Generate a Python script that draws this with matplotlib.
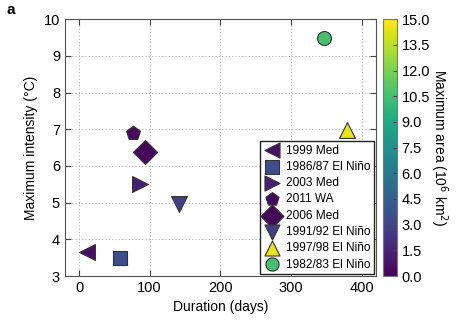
import matplotlib
matplotlib.use("Agg")
import matplotlib.pyplot as plt
import numpy as np

plt.rcParams['font.family'] = ['Liberation Sans', 'DejaVu Sans']

events = ["1999 Med", "1986/87 El Niño", "2003 Med", "2011 WA", "2006 Med",
          "1991/92 El Niño", "1997/98 El Niño", "1982/83 El Niño"]
duration = [11, 58, 87, 76, 93, 142, 380, 347]
intensity = [3.66, 3.5, 5.5, 6.9, 6.38, 4.95, 6.98, 9.5]
max_area = [0.6, 3.6, 1.3, 0.4, 0.2, 2.8, 14.5, 10.6]
markers = ["<", "s", ">", "p", "D", "v", "^", "o"]
sizes = [130, 110, 130, 110, 150, 130, 130, 100]

fig = plt.figure(figsize=(4.57, 3.2), dpi=100)
ax = fig.add_axes([0.142, 0.1375, 0.68, 0.8025])
cax = fig.add_axes([0.838, 0.1375, 0.03, 0.8025])

cmap = plt.get_cmap("viridis")
norm = matplotlib.colors.Normalize(vmin=0, vmax=15)

for name, d, i, a, m, s in zip(events, duration, intensity, max_area, markers, sizes):
    ax.scatter(d, i, s=s, marker=m, color=cmap(norm(a)), edgecolor="#333333",
               linewidth=0.8, label=name, zorder=3)

ax.set_xlim(-20, 420)
ax.set_ylim(3, 10)
ax.set_xticks([0, 100, 200, 300, 400])
ax.set_yticks(range(3, 11))
ax.grid(True, linestyle=(0, (1, 2)), color="#b0b0b0", linewidth=0.8)
ax.tick_params(direction="in", top=True, right=True, labelsize=10.5,
               length=4, color="#444444")
for sp in ax.spines.values():
    sp.set_color("#555555")
ax.set_xlabel("Duration (days)", fontsize=10)
ax.set_ylabel("Maximum intensity (°C)", fontsize=10)

leg = ax.legend(loc="lower right", fontsize=8.6, frameon=True, fancybox=False,
                edgecolor="#222222", framealpha=1, borderpad=0.3,
                labelspacing=0.36, handletextpad=0.4, handlelength=1.5,
                borderaxespad=0.15, markerscale=0.95)
leg.get_frame().set_linewidth(1.0)
leg.set_zorder(5)

cb = matplotlib.colorbar.ColorbarBase(cax, cmap=cmap, norm=norm)
cb.set_ticks(np.arange(0, 15.1, 1.5))
cb.set_ticklabels([f"{v:.1f}" for v in np.arange(0, 15.1, 1.5)])
cb.outline.set_edgecolor("#777777")
cax.tick_params(labelsize=10.5, direction="in", length=3, color="#444444")
cb.set_label("Maximum area (10$^6$ km$^2$)", fontsize=10, rotation=270,
             labelpad=14)

fig.text(0.015, 0.955, "a", fontsize=11, fontweight="bold")

fig.savefig("out.png", dpi=100)
